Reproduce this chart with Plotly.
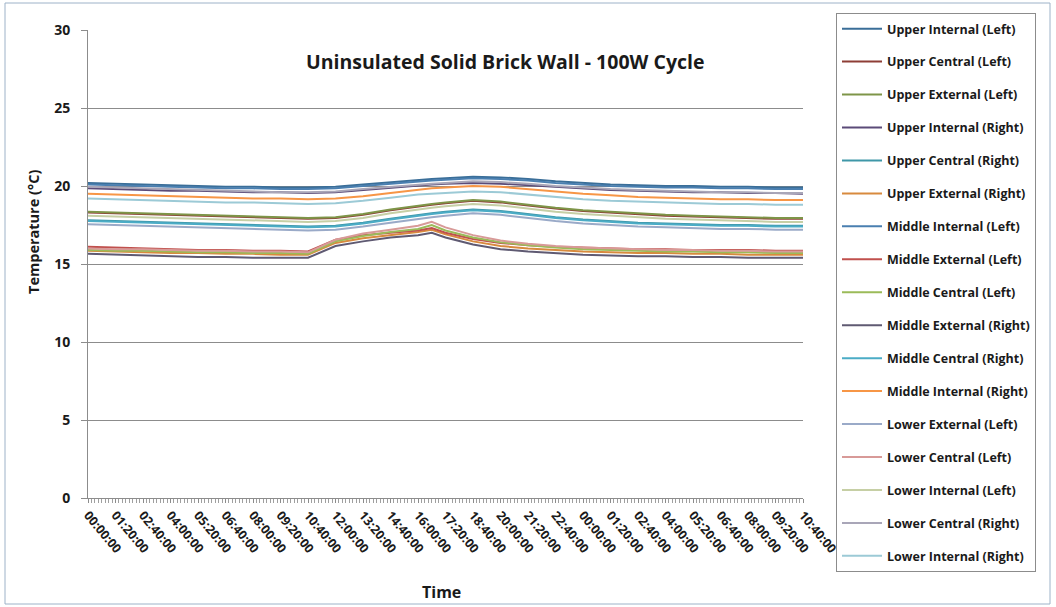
import plotly.graph_objects as go

# time in minutes from start (00:00:00 day 1)
minutes = [0, 80, 160, 240, 320, 400, 480, 560, 640, 720, 800, 880, 960, 1000,
           1040, 1120, 1200, 1280, 1360, 1440, 1520, 1600, 1680, 1760, 1840, 1920, 2000, 2080]

tick_minutes = list(range(0, 2081, 80))
tick_labels = ["00:00:00", "01:20:00", "02:40:00", "04:00:00", "05:20:00", "06:40:00",
               "08:00:00", "09:20:00", "10:40:00", "12:00:00", "13:20:00", "14:40:00",
               "16:00:00", "17:20:00", "18:40:00", "20:00:00", "21:20:00", "22:40:00",
               "00:00:00", "01:20:00", "02:40:00", "04:00:00", "05:20:00", "06:40:00",
               "08:00:00", "09:20:00", "10:40:00"]

series_names = ["Upper Internal (Left)", "Upper Central (Left)", "Upper External (Left)",
                "Upper Internal (Right)", "Upper Central (Right)", "Upper External (Right)",
                "Middle Internal (Left)", "Middle External (Left)", "Middle Central (Left)",
                "Middle External (Right)", "Middle Central (Right)", "Middle Internal (Right)",
                "Lower External (Left)", "Lower Central (Left)", "Lower Internal (Left)",
                "Lower Central (Right)", "Lower Internal (Right)"]

series_colors = ["#3A6E98", "#8E3E36", "#7E9548", "#5B4B78", "#3F97A8", "#D88A3E",
                 "#4A7FB0", "#C0504D", "#9BBB59", "#5F5A72", "#4BACC6", "#F79646",
                 "#9AAAC8", "#D89A98", "#C6CFA5", "#A9A6B8", "#9CCAD6"]

upper_internal_left = [20.2, 20.15, 20.1, 20.05, 20.0, 19.95, 19.95, 19.9, 19.9, 19.95, 20.1, 20.25, 20.4, 20.45,
                       20.5, 20.6, 20.55, 20.45, 20.3, 20.2, 20.1, 20.05, 20.0, 20.0, 19.95, 19.95, 19.9, 19.9]
upper_central_left = [18.3, 18.25, 18.2, 18.15, 18.1, 18.05, 18.0, 17.95, 17.9, 17.95, 18.15, 18.45, 18.7, 18.8,
                      18.9, 19.05, 18.95, 18.75, 18.55, 18.4, 18.3, 18.2, 18.1, 18.05, 18.0, 17.95, 17.9, 17.9]
upper_external_left = [18.35, 18.3, 18.25, 18.2, 18.15, 18.1, 18.05, 18.0, 17.95, 18.0, 18.2, 18.5, 18.75, 18.85,
                       18.95, 19.1, 19.0, 18.8, 18.6, 18.45, 18.35, 18.25, 18.15, 18.1, 18.05, 18.0, 17.95, 17.95]
upper_internal_right = [19.85, 19.8, 19.75, 19.7, 19.7, 19.65, 19.6, 19.6, 19.55, 19.6, 19.75, 19.9, 20.05, 20.1,
                        20.15, 20.2, 20.15, 20.05, 19.95, 19.85, 19.75, 19.7, 19.65, 19.6, 19.6, 19.55, 19.55, 19.5]
upper_central_right = [17.8, 17.75, 17.7, 17.65, 17.6, 17.55, 17.5, 17.45, 17.4, 17.45, 17.65, 17.9, 18.15, 18.25,
                       18.35, 18.5, 18.4, 18.2, 18.0, 17.85, 17.75, 17.65, 17.6, 17.55, 17.5, 17.5, 17.45, 17.45]
upper_external_right = [15.85, 15.8, 15.75, 15.7, 15.7, 15.65, 15.65, 15.6, 15.6, 16.35, 16.65, 16.85, 17.05, 17.2,
                        16.9, 16.45, 16.15, 16.0, 15.9, 15.8, 15.75, 15.7, 15.7, 15.65, 15.65, 15.6, 15.6, 15.6]
middle_internal_left = [20.1, 20.05, 20.0, 19.95, 19.9, 19.85, 19.85, 19.8, 19.8, 19.85, 20.0, 20.15, 20.3, 20.35,
                        20.4, 20.5, 20.45, 20.35, 20.2, 20.1, 20.0, 19.95, 19.9, 19.9, 19.85, 19.85, 19.8, 19.8]
middle_external_left = [16.1, 16.05, 16.0, 15.95, 15.9, 15.9, 15.85, 15.85, 15.8, 16.55, 16.85, 17.0, 17.15, 17.3,
                        17.0, 16.6, 16.35, 16.2, 16.1, 16.05, 16.0, 15.95, 15.95, 15.9, 15.9, 15.9, 15.85, 15.85]
middle_central_left = [15.9, 15.85, 15.85, 15.8, 15.75, 15.75, 15.7, 15.7, 15.65, 16.45, 16.8, 17.05, 17.25, 17.5,
                       17.15, 16.7, 16.4, 16.2, 16.05, 15.95, 15.9, 15.85, 15.8, 15.8, 15.75, 15.75, 15.7, 15.7]
middle_external_right = [15.65, 15.6, 15.55, 15.5, 15.45, 15.45, 15.4, 15.4, 15.4, 16.15, 16.45, 16.7, 16.85, 17.0,
                         16.7, 16.25, 15.95, 15.8, 15.7, 15.6, 15.55, 15.5, 15.5, 15.45, 15.45, 15.4, 15.4, 15.4]
middle_central_right = [17.75, 17.7, 17.65, 17.6, 17.55, 17.5, 17.45, 17.4, 17.35, 17.4, 17.6, 17.85, 18.1, 18.2,
                        18.3, 18.45, 18.35, 18.15, 17.95, 17.8, 17.7, 17.6, 17.55, 17.5, 17.45, 17.45, 17.4, 17.4]
middle_internal_right = [19.5, 19.45, 19.4, 19.35, 19.3, 19.25, 19.2, 19.2, 19.15, 19.2, 19.35, 19.55, 19.75, 19.85,
                         19.9, 20.0, 19.95, 19.8, 19.65, 19.5, 19.4, 19.3, 19.25, 19.2, 19.15, 19.15, 19.1, 19.1]
lower_external_left = [17.55, 17.5, 17.45, 17.4, 17.35, 17.3, 17.25, 17.2, 17.15, 17.2, 17.4, 17.65, 17.9, 18.0,
                       18.1, 18.25, 18.15, 17.95, 17.75, 17.6, 17.5, 17.4, 17.35, 17.3, 17.25, 17.25, 17.2, 17.2]
lower_central_left = [16.0, 15.95, 15.95, 15.9, 15.85, 15.85, 15.8, 15.8, 15.75, 16.55, 16.95, 17.2, 17.45, 17.7,
                      17.35, 16.85, 16.5, 16.3, 16.15, 16.05, 16.0, 15.95, 15.9, 15.9, 15.85, 15.85, 15.8, 15.8]
lower_internal_left = [18.1, 18.05, 18.0, 17.95, 17.9, 17.85, 17.8, 17.75, 17.7, 17.75, 17.95, 18.25, 18.5, 18.6,
                       18.7, 18.85, 18.75, 18.55, 18.35, 18.2, 18.1, 18.0, 17.9, 17.85, 17.8, 17.75, 17.7, 17.7]
lower_central_right = [19.95, 19.9, 19.85, 19.8, 19.75, 19.7, 19.65, 19.6, 19.6, 19.65, 19.8, 19.95, 20.1, 20.15,
                       20.2, 20.3, 20.25, 20.15, 20.0, 19.9, 19.8, 19.75, 19.7, 19.65, 19.6, 19.6, 19.55, 19.55]
lower_internal_right = [19.2, 19.15, 19.1, 19.05, 19.0, 18.95, 18.95, 18.9, 18.85, 18.9, 19.05, 19.25, 19.45, 19.5,
                        19.55, 19.65, 19.6, 19.45, 19.3, 19.15, 19.05, 19.0, 18.95, 18.9, 18.85, 18.85, 18.8, 18.8]

series_values = [upper_internal_left, upper_central_left, upper_external_left,
                 upper_internal_right, upper_central_right, upper_external_right,
                 middle_internal_left, middle_external_left, middle_central_left,
                 middle_external_right, middle_central_right, middle_internal_right,
                 lower_external_left, lower_central_left, lower_internal_left,
                 lower_central_right, lower_internal_right]

FONT = "Open Sans"

fig = go.Figure()
for name, color, vals in zip(series_names, series_colors, series_values):
    fig.add_trace(go.Scatter(x=minutes, y=vals, mode="lines", name=name, legendgroup=name,
                             line=dict(color=color, width=2)))

# plot area geometry (px): x 88..803, y 30..498
L, R, T, B = 88, 803, 30, 498
W, H = 1056, 607
def px(x):
    return (x - L) / (R - L)
def py(y):
    return (B - y) / (B - T)

fig.update_layout(
    width=W, height=H,
    margin=dict(l=L, r=W - R, t=T, b=H - B, autoexpand=False),
    paper_bgcolor="white", plot_bgcolor="white",
    font=dict(family=FONT, color="#1a1a1a"),
    showlegend=True,
    legend=dict(x=px(836), y=py(13), xanchor="left", yanchor="top",
                bordercolor="#8c8c8c", borderwidth=1, bgcolor="white",
                font=dict(family=FONT, size=12.5, color="#1a1a1a", weight="bold"),
                tracegroupgap=13.7, itemwidth=40, maxheight=600),
    annotations=[
        dict(text="<b>Uninsulated Solid Brick Wall - 100W Cycle</b>", x=px(505), y=py(62),
             xref="paper", yref="paper", xanchor="center", yanchor="middle",
             showarrow=False, font=dict(size=19.5, family=FONT)),
        dict(text="<b>Temperature (°C)</b>", x=px(33), y=py(232), xref="paper", yref="paper",
             xanchor="center", yanchor="middle",
             showarrow=False, textangle=-90, font=dict(size=14.5, family=FONT)),
        dict(text="<b>Time</b>", x=px(441), y=py(592), xref="paper", yref="paper",
             xanchor="center", yanchor="middle",
             showarrow=False, font=dict(size=16, family=FONT)),
    ],
    shapes=[dict(type="rect", xref="paper", yref="paper", x0=px(5), x1=px(1050), y0=py(604), y1=py(3),
                 line=dict(color="#9DB2C8", width=1), fillcolor="rgba(0,0,0,0)", layer="below")],
)

fig.update_xaxes(range=[0, 2080], tickmode="array", tickvals=tick_minutes, ticktext=tick_labels,
                 tickangle=50, tickfont=dict(size=12.5, family=FONT, weight="bold"), automargin=False,
                 showline=True, linecolor="#8c8c8c", linewidth=1, showgrid=False, zeroline=False,
                 ticks="outside", ticklen=4, tickcolor="#8c8c8c",
                 minor=dict(dtick=10, tick0=0, ticks="outside", ticklen=4, tickcolor="#a0a0a0", showgrid=False))
fig.update_yaxes(range=[0, 30], dtick=5, tickfont=dict(size=14, family=FONT, weight="bold"), automargin=False,
                 showline=True, linecolor="#8c8c8c", linewidth=1, showgrid=True, gridcolor="#8c8c8c",
                 gridwidth=1, zeroline=False, ticks="outside", ticklen=6, tickcolor="#8c8c8c",
                 ticklabelstandoff=8)

fig.write_html("out.html", config={"displayModeBar": False},
               post_script="document.body.style.margin='0';document.body.style.padding='0';")
